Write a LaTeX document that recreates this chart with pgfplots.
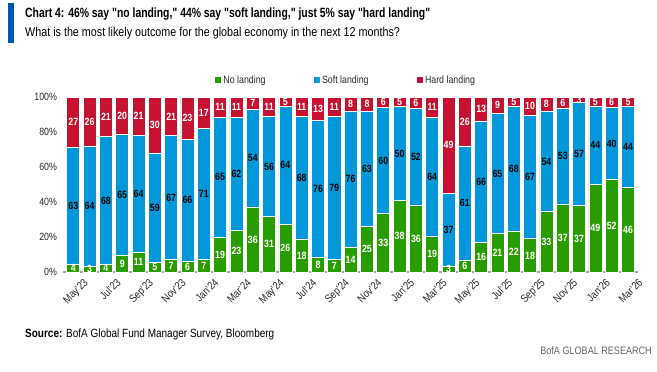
\documentclass[border=0pt]{standalone}
\usepackage{fontspec}
\setmainfont[FakeStretch=0.84]{Liberation Sans}
\newfontfamily\titlefont[FakeStretch=0.775]{Liberation Sans}
\usepackage{pgfplots}
\usepackage{pgfplotstable}
\pgfplotsset{compat=1.18}
\definecolor{cgreen}{RGB}{41,156,0}
\definecolor{cblue}{RGB}{0,152,218}
\definecolor{cred}{RGB}{198,17,48}
\definecolor{ctitlebar}{RGB}{0,84,180}
\definecolor{ctext}{RGB}{40,40,40}

\pgfplotstableread{
x g b r
0 4 63 27
1 3 64 26
2 4 68 21
3 9 65 20
4 11 64 21
5 5 59 30
6 7 67 21
7 6 66 23
8 7 71 17
9 19 65 11
10 23 62 11
11 36 54 7
12 31 56 11
13 26 64 5
14 18 68 11
15 8 76 13
16 7 79 11
17 14 76 8
18 25 63 8
19 33 60 6
20 38 50 5
21 36 52 6
22 19 64 11
23 3 37 49
24 6 61 26
25 16 66 13
26 21 65 9
27 22 68 5
28 18 67 10
29 33 54 8
30 37 53 6
31 37 57 3
32 49 44 5
33 52 40 6
34 46 44 5
}\data

\pgfplotsset{
  basegeom/.style={
    width=574.3pt, height=175pt, scale only axis,
    at={(63.5pt,-272pt)}, anchor=south west,
    xmin=-0.6, xmax=34.6, ymin=0, ymax=100,
  },
  lbl/.style={draw=none, mark=none, nodes near coords, point meta=explicit symbolic,
    every node near coord/.append style={anchor=center, inner sep=0pt,
      font=\fontsize{10.5}{12}\selectfont\bfseries, text=#1}},
}

\begin{document}
\begin{tikzpicture}
\useasboundingbox (0pt,-372pt) rectangle (657pt,0pt);
\fill[ctitlebar] (8pt,-3pt) rectangle (14pt,-43pt);
\node[anchor=west, inner sep=0pt, text=black] at (25pt,-14pt)
  {\titlefont\fontsize{13.4}{16}\selectfont\bfseries Chart 4: 46\% say "no landing," 44\% say "soft landing," just 5\% say "hard landing"};
\node[anchor=west, inner sep=0pt, text=black] at (25pt,-33pt)
  {\fontsize{12.8}{15}\selectfont What is the most likely outcome for the global economy in the next 12 months?};

\begin{axis}[basegeom,
  ybar stacked, bar width=0.8,
  axis x line*=bottom, axis y line*=left,
  x axis line style={-, draw=gray!70, line width=1.3pt},
  y axis line style={draw=none},
  major tick length=0pt,
  xtick={0,2,...,34},
  xticklabels={May’23,Jul’23,Sep’23,Nov’23,Jan’24,Mar’24,May’24,Jul’24,Sep’24,Nov’24,Jan’25,Mar’25,May’25,Jul’25,Sep’25,Nov’25,Jan’26,Mar’26},
  x tick label style={rotate=45, anchor=north east, inner sep=0pt, xshift=3pt, yshift=-11pt,
    font=\fontsize{11}{12}\selectfont, text=ctext},
  ytick={0,20,...,100},
  yticklabel={\pgfmathprintnumber{\tick}\%},
  y tick label style={font=\fontsize{10.5}{12}\selectfont, text=ctext, xshift=-3pt},
  /pgf/number format/assume math mode=true,
  legend columns=3,
  legend style={at={(0.492,1.097)}, anchor=center, draw=none, fill=none,
    font=\fontsize{10.5}{12}\selectfont, text=ctext,
    /tikz/every even column/.append style={column sep=46pt}},
  legend image code/.code={\fill[#1, draw=none] (0pt,-3.2pt) rectangle (6.4pt,3.2pt);},
]
\addplot[fill=cgreen, draw=white, line width=0.7pt] table[x=x, y expr={100*\thisrow{g}/(\thisrow{g}+\thisrow{b}+\thisrow{r})}] {\data};
\addplot[fill=cblue, draw=white, line width=0.7pt] table[x=x, y expr={100*\thisrow{b}/(\thisrow{g}+\thisrow{b}+\thisrow{r})}] {\data};
\addplot[fill=cred, draw=white, line width=0.7pt] table[x=x, y expr={100*\thisrow{r}/(\thisrow{g}+\thisrow{b}+\thisrow{r})}] {\data};
\legend{No landing, Soft landing, Hard landing}
\end{axis}

\begin{axis}[basegeom, hide axis, clip=false]
\addplot[lbl=white] table[x=x, y expr={50*\thisrow{g}/(\thisrow{g}+\thisrow{b}+\thisrow{r})}, meta=g] {\data};
\addplot[lbl=black] table[x=x, y expr={100*(\thisrow{g}+0.5*\thisrow{b})/(\thisrow{g}+\thisrow{b}+\thisrow{r})}, meta=b] {\data};
\addplot[lbl=white] table[x=x, y expr={100*(\thisrow{g}+\thisrow{b}+0.5*\thisrow{r})/(\thisrow{g}+\thisrow{b}+\thisrow{r})}, meta=r] {\data};
\end{axis}

\node[anchor=west, inner sep=0pt, text=black] at (25pt,-334pt)
  {\fontsize{11.9}{13}\selectfont\textbf{Source:} BofA Global Fund Manager Survey, Bloomberg};
\node[anchor=east, inner sep=0pt, text=gray!80!black] at (652pt,-351pt)
  {\fontsize{10.8}{12}\selectfont BofA GLOBAL RESEARCH};
\end{tikzpicture}
\end{document}
